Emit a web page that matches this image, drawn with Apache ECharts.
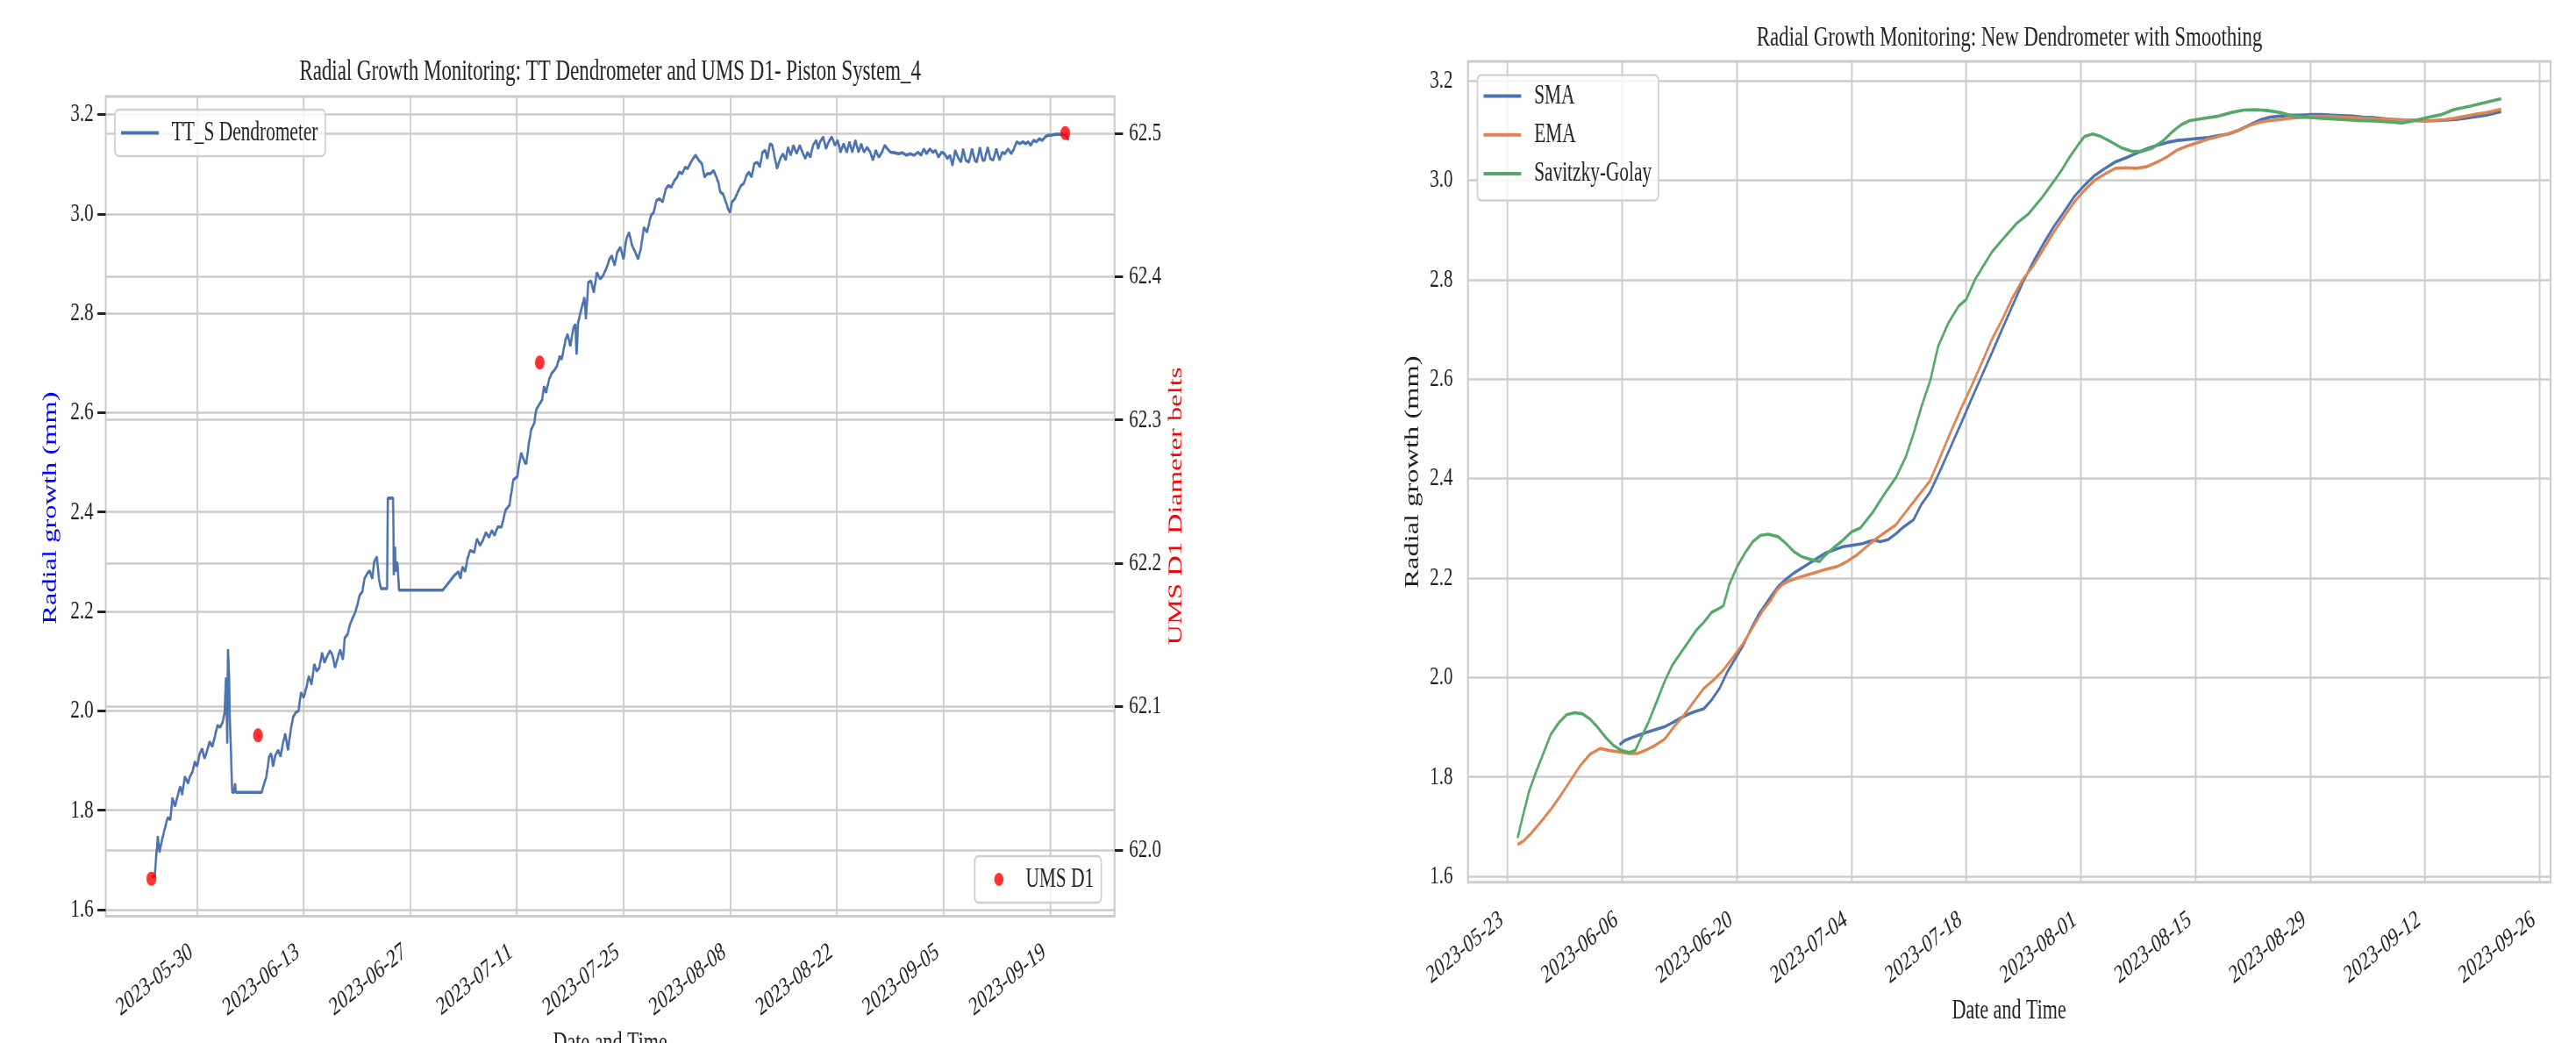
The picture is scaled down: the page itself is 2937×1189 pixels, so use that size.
<!DOCTYPE html>
<html><head><meta charset="utf-8">
<script src="https://cdn.jsdelivr.net/npm/echarts@6/dist/echarts.min.js"></script>
<style>html,body{margin:0;padding:0;background:#fff;overflow:hidden;width:2937px;height:1189px;}
#c{position:absolute;left:0;top:0;transform-origin:0 0;}</style>
</head><body><div id="c"></div>
<script>
// ---------------- DATA ----------------
// day = days since 2023-05-24 00:00
const leftXTickLabels = ['2023-05-30','2023-06-13','2023-06-27','2023-07-11','2023-07-25','2023-08-08','2023-08-22','2023-09-05','2023-09-19'];
const rightXTickLabels = ['2023-05-23','2023-06-06','2023-06-20','2023-07-04','2023-07-18','2023-08-01','2023-08-15','2023-08-29','2023-09-12','2023-09-26'];
const leftYTicks = [1.6,1.8,2.0,2.2,2.4,2.6,2.8,3.0,3.2];
const umsYTicks = [62.0,62.1,62.2,62.3,62.4,62.5];
const rightYTicks = [1.6,1.8,2.0,2.2,2.4,2.6,2.8,3.0,3.2];

// TT_S Dendrometer [day, mm]
const ttPoints = [
[0.05,1.665],[0.44,1.668],[0.85,1.748],[1.06,1.715],[1.32,1.735],[1.73,1.761],[2.14,1.785],[2.50,1.781],[2.76,1.825],[3.12,1.808],
[3.43,1.828],[3.79,1.848],[4.04,1.831],[4.40,1.868],[4.82,1.854],[5.07,1.868],[5.43,1.878],[5.69,1.898],[6.00,1.888],[6.36,1.914],
[6.67,1.924],[6.98,1.904],[7.29,1.918],[7.65,1.938],[8.01,1.928],[8.32,1.947],[8.68,1.971],[9.04,1.967],[9.35,1.977],[9.60,1.994],
[9.81,2.067],[9.96,1.934],[10.07,2.124],[10.22,2.060],[10.32,1.980],[10.48,1.900],[10.63,1.836],[10.85,1.836],[10.99,1.854],[11.10,1.836],
[14.49,1.836],[14.70,1.848],[15.11,1.868],[15.47,1.908],[15.73,1.914],[15.98,1.888],[16.29,1.911],[16.65,1.921],[16.96,1.908],[17.27,1.934],
[17.58,1.954],[17.94,1.921],[18.30,1.961],[18.61,1.987],[18.97,1.997],[19.33,2.000],[19.64,2.037],[20.00,2.027],[20.36,2.047],[20.67,2.070],
[21.03,2.053],[21.39,2.094],[21.70,2.080],[22.06,2.087],[22.42,2.117],[22.73,2.097],[23.09,2.110],[23.45,2.121],[23.76,2.113],[24.12,2.087],
[24.48,2.107],[24.79,2.123],[25.15,2.103],[25.40,2.147],[25.76,2.154],[26.07,2.173],[26.43,2.187],[26.74,2.197],[27.05,2.213],[27.36,2.233],
[27.72,2.240],[27.98,2.266],[28.34,2.276],[28.65,2.282],[29.01,2.266],[29.26,2.300],[29.62,2.310],[29.88,2.266],[30.14,2.246],[30.96,2.246],
[31.06,2.428],[31.73,2.428],[31.80,2.364],[31.84,2.273],[32.00,2.330],[32.09,2.280],[32.20,2.300],[32.35,2.293],[32.51,2.243],[38.27,2.243],
[38.78,2.253],[39.30,2.263],[39.81,2.273],[40.33,2.280],[40.59,2.266],[40.84,2.290],[41.20,2.280],[41.51,2.306],[41.87,2.323],[42.39,2.319],
[42.75,2.346],[43.16,2.333],[43.52,2.343],[43.93,2.359],[44.34,2.349],[44.70,2.363],[45.06,2.353],[45.47,2.370],[45.99,2.370],[46.50,2.404],
[47.02,2.414],[47.53,2.465],[48.05,2.471],[48.31,2.498],[48.56,2.519],[49.08,2.498],[49.25,2.498],[49.51,2.532],[49.87,2.566],[50.28,2.579],
[50.53,2.606],[50.79,2.613],[51.31,2.626],[51.56,2.653],[51.82,2.640],[52.23,2.667],[52.59,2.680],[52.85,2.684],[53.26,2.694],[53.62,2.714],
[53.88,2.707],[54.39,2.747],[54.65,2.758],[55.01,2.734],[55.42,2.771],[55.68,2.778],[55.83,2.717],[56.04,2.781],[56.45,2.808],[56.86,2.832],
[57.06,2.788],[57.37,2.862],[57.73,2.865],[58.09,2.842],[58.50,2.882],[58.92,2.869],[59.28,2.875],[59.79,2.892],[60.15,2.909],[60.46,2.916],
[60.82,2.896],[61.18,2.923],[61.59,2.933],[62.00,2.909],[62.36,2.949],[62.72,2.963],[63.13,2.936],[63.54,2.923],[63.90,2.909],[64.26,2.929],
[64.67,2.973],[65.08,2.963],[65.60,2.997],[65.96,3.003],[66.32,3.027],[66.73,3.030],[67.14,3.024],[67.55,3.050],[67.86,3.057],[68.27,3.054],
[68.68,3.067],[69.04,3.074],[69.30,3.084],[69.71,3.081],[70.07,3.094],[70.43,3.091],[70.84,3.104],[71.25,3.114],[71.46,3.118],[71.87,3.108],
[72.28,3.101],[72.64,3.074],[73.00,3.081],[73.41,3.081],[73.83,3.087],[74.19,3.074],[74.44,3.064],[74.70,3.044],[75.06,3.040],[75.37,3.027],
[75.73,3.010],[75.98,3.003],[76.24,3.024],[76.60,3.030],[77.01,3.044],[77.42,3.057],[77.78,3.061],[78.14,3.077],[78.45,3.084],[78.81,3.074],
[79.17,3.101],[79.58,3.104],[79.89,3.094],[80.25,3.124],[80.61,3.128],[80.87,3.111],[81.23,3.141],[81.54,3.138],[81.79,3.118],[82.15,3.091],
[82.57,3.111],[82.93,3.121],[83.29,3.108],[83.59,3.134],[83.95,3.118],[84.31,3.138],[84.72,3.121],[85.14,3.138],[85.50,3.124],[85.86,3.111],
[86.16,3.124],[86.52,3.114],[86.88,3.138],[87.30,3.148],[87.55,3.131],[87.81,3.145],[88.22,3.155],[88.58,3.131],[88.94,3.145],[89.35,3.155],
[89.76,3.138],[90.12,3.148],[90.48,3.124],[90.89,3.141],[91.31,3.124],[91.67,3.145],[92.03,3.124],[92.44,3.148],[92.85,3.124],[93.21,3.141],
[93.57,3.124],[93.98,3.134],[94.39,3.124],[94.75,3.108],[95.11,3.128],[95.52,3.114],[95.93,3.124],[96.29,3.138],[96.65,3.131],[97.06,3.124],
[97.58,3.123],[98.09,3.121],[98.61,3.123],[99.12,3.118],[99.64,3.121],[100.15,3.118],[100.66,3.124],[101.08,3.118],[101.43,3.131],[101.79,3.121],
[102.21,3.131],[102.62,3.124],[102.98,3.128],[103.34,3.114],[103.75,3.124],[104.16,3.121],[104.52,3.111],[104.88,3.118],[105.19,3.097],[105.55,3.128],
[105.91,3.114],[106.32,3.104],[106.58,3.131],[106.94,3.108],[107.35,3.104],[107.76,3.131],[108.12,3.108],[108.38,3.104],[108.79,3.134],[109.15,3.108],
[109.40,3.108],[109.82,3.134],[110.17,3.111],[110.54,3.108],[110.95,3.131],[111.36,3.108],[111.72,3.124],[112.08,3.121],[112.49,3.131],[112.90,3.121],
[113.26,3.131],[113.62,3.145],[114.03,3.141],[114.44,3.145],[114.80,3.141],[115.16,3.145],[115.47,3.138],[115.83,3.148],[116.19,3.145],[116.60,3.151],
[117.01,3.148],[117.37,3.155],[117.73,3.158],[118.14,3.158],[118.66,3.160],[119.17,3.160],[119.69,3.160],[120.10,3.158],[120.46,3.148]
];

// UMS D1 diameter belts [day, mm]
const umsPoints = [[0.0,61.98],[14.0,62.08],[51.0,62.34],[120.0,62.50]];

// New dendrometer smoothing [day, mm]
const smaPoints = [
[12.68,1.865],[13.40,1.874],[14.36,1.880],[15.32,1.886],[16.27,1.891],[17.23,1.896],[18.19,1.901],[19.14,1.909],[20.10,1.918],[21.06,1.926],
[22.01,1.932],[22.97,1.937],[23.93,1.955],[24.89,1.978],[25.84,2.011],[26.80,2.038],[27.76,2.064],[28.71,2.097],[29.67,2.127],[30.63,2.150],
[31.34,2.167],[32.06,2.183],[33.02,2.198],[33.97,2.210],[34.93,2.220],[35.89,2.230],[36.84,2.240],[37.80,2.250],[38.76,2.256],[39.95,2.263],
[41.15,2.266],[42.35,2.269],[43.06,2.273],[43.78,2.276],[44.50,2.273],[45.46,2.277],[46.42,2.289],[47.37,2.303],[48.57,2.317],[49.53,2.348],
[50.57,2.372],[51.83,2.416],[53.09,2.463],[54.35,2.510],[55.60,2.558],[56.86,2.605],[58.12,2.652],[59.38,2.700],[60.64,2.747],[61.90,2.794],
[63.16,2.835],[64.42,2.872],[65.67,2.906],[66.93,2.936],[68.19,2.967],[69.45,2.990],[70.71,3.010],[71.97,3.024],[73.23,3.037],[74.49,3.045],
[75.75,3.054],[77.00,3.063],[78.26,3.070],[79.52,3.076],[80.78,3.080],[82.04,3.082],[83.30,3.084],[84.56,3.086],[85.82,3.090],[87.07,3.093],
[88.33,3.101],[89.59,3.111],[90.85,3.121],[92.11,3.127],[93.37,3.129],[94.63,3.131],[95.89,3.131],[97.14,3.132],[98.40,3.132],[99.66,3.131],
[100.92,3.130],[102.18,3.129],[103.44,3.127],[104.70,3.126],[105.96,3.124],[107.22,3.122],[108.47,3.121],[109.73,3.120],[110.99,3.119],[112.25,3.120],
[113.51,3.121],[114.77,3.122],[116.03,3.125],[117.28,3.128],[118.54,3.131],[120.31,3.138]
];
const emaPoints = [
[0.24,1.664],[0.96,1.671],[1.92,1.687],[3.11,1.710],[4.31,1.735],[5.51,1.763],[6.70,1.793],[7.90,1.823],[9.10,1.846],[10.29,1.857],
[11.49,1.853],[12.68,1.850],[13.88,1.847],[14.84,1.847],[15.79,1.853],[16.99,1.863],[18.19,1.876],[19.38,1.902],[20.58,1.925],[21.78,1.952],
[22.97,1.978],[24.17,1.995],[25.36,2.015],[26.56,2.041],[27.76,2.068],[28.95,2.101],[30.15,2.134],[31.11,2.154],[31.82,2.174],[32.54,2.187],
[33.50,2.195],[34.93,2.203],[36.37,2.210],[37.80,2.217],[39.24,2.223],[40.44,2.233],[41.63,2.246],[42.83,2.263],[44.02,2.279],[45.22,2.293],
[46.42,2.307],[48.33,2.348],[50.57,2.395],[51.83,2.443],[53.09,2.493],[54.35,2.540],[55.60,2.584],[56.86,2.631],[58.12,2.679],[59.38,2.719],
[60.64,2.763],[61.90,2.800],[63.16,2.827],[64.42,2.861],[65.67,2.895],[66.93,2.926],[68.19,2.956],[69.45,2.980],[70.71,3.000],[71.97,3.013],
[73.23,3.024],[74.49,3.025],[75.75,3.024],[77.00,3.027],[78.26,3.036],[79.52,3.047],[80.78,3.061],[82.04,3.069],[83.30,3.076],[84.56,3.083],
[85.82,3.088],[87.07,3.094],[88.33,3.101],[89.59,3.110],[90.85,3.117],[92.11,3.120],[93.37,3.122],[94.63,3.125],[95.89,3.126],[97.14,3.128],
[98.40,3.128],[99.66,3.128],[100.92,3.127],[102.18,3.126],[103.44,3.125],[104.70,3.124],[105.96,3.123],[107.22,3.122],[108.47,3.121],[109.73,3.121],
[110.99,3.120],[112.25,3.120],[113.51,3.122],[114.77,3.125],[116.03,3.129],[117.28,3.133],[118.54,3.136],[120.31,3.143]
];
const sgPoints = [
[0.24,1.677],[0.96,1.727],[1.68,1.773],[2.40,1.806],[3.35,1.846],[4.31,1.886],[5.27,1.909],[6.22,1.925],[7.18,1.929],[8.14,1.927],
[9.10,1.916],[10.05,1.899],[11.01,1.879],[11.97,1.863],[12.92,1.853],[13.88,1.849],[14.60,1.853],[15.32,1.879],[16.27,1.912],[17.23,1.952],
[18.19,1.992],[19.14,2.025],[20.10,2.048],[21.06,2.071],[22.01,2.094],[22.97,2.111],[23.93,2.131],[24.65,2.137],[25.36,2.144],[26.08,2.187],
[27.04,2.223],[27.99,2.250],[28.95,2.273],[29.91,2.286],[30.86,2.288],[32.06,2.283],[33.02,2.269],[33.97,2.253],[34.93,2.243],[35.89,2.238],
[37.08,2.233],[37.80,2.246],[38.76,2.260],[39.95,2.276],[41.01,2.293],[42.11,2.301],[43.55,2.331],[44.98,2.368],[46.42,2.402],[47.61,2.443],
[48.57,2.490],[49.53,2.544],[50.63,2.598],[51.58,2.666],[52.83,2.713],[54.09,2.747],[55.00,2.760],[56.11,2.801],[58.12,2.855],[59.13,2.875],
[61.14,2.913],[62.65,2.933],[64.16,2.963],[65.67,2.997],[66.68,3.021],[67.69,3.048],[68.70,3.072],[69.45,3.088],[70.46,3.093],[71.46,3.088],
[72.72,3.077],[73.98,3.065],[75.24,3.058],[76.50,3.058],[77.76,3.065],[79.02,3.079],[80.28,3.099],[81.28,3.112],[82.29,3.120],[83.80,3.124],
[85.82,3.129],[87.33,3.136],[88.84,3.141],[90.35,3.142],[91.86,3.140],[93.37,3.136],[94.88,3.129],[96.89,3.126],[98.91,3.124],[100.92,3.122],
[102.94,3.120],[104.95,3.119],[106.97,3.117],[108.22,3.115],[109.48,3.119],[111.50,3.127],[113.00,3.132],[114.52,3.142],[116.53,3.149],[118.55,3.157],
[120.31,3.164]
];

// ---------------- LAYOUT ----------------
const SQ = 0.7;              // the source figure is squeezed horizontally
const W = 2937, H = 1189, RW = W / SQ;
const X = v => v / SQ;       // final-pixel x -> render x
const BASE = Date.UTC(2023, 4, 24);
const dayOf = s => (Date.parse(s + 'T00:00:00Z') - BASE) / 86400000;
const dayLabel = v => new Date(BASE + Math.round(v) * 86400000).toISOString().slice(0, 10);
const FONT = 'Liberation Serif';
const TXT = '#222222';
const GRIDC = '#cccccc';

const el = document.getElementById('c');
el.style.width = RW + 'px'; el.style.height = H + 'px';
el.style.transform = 'scaleX(' + SQ + ')';
const chart = echarts.init(el, null, { renderer: 'canvas', width: RW, height: H });

const leftXTicks = leftXTickLabels.map(dayOf);
const rightXTicks = rightXTickLabels.map(dayOf);

function xAxisDef(gridIndex, min, max, ticks, margin) {
  return {
    type: 'value', gridIndex, min, max,
    axisLine: { show: false, onZero: false }, axisTick: { show: false, customValues: ticks },
    axisLabel: { customValues: ticks, formatter: dayLabel, rotate: 30, margin, padding: [0, 11, 0, 0],
      fontFamily: FONT, fontSize: 29.5, color: TXT },
    splitLine: { show: true, lineStyle: { color: GRIDC, width: 2.6 } }
  };
}
function yAxisDef(gridIndex, min, max, ticks, pos, showTicks, margin) {
  return {
    type: 'value', gridIndex, min, max, position: pos,
    axisLine: { show: false, onZero: false },
    axisTick: { show: showTicks, inside: false, customValues: ticks, length: X(9.5), lineStyle: { color: TXT, width: 3 } },
    axisLabel: { customValues: ticks, formatter: v => v.toFixed(1), margin, fontFamily: FONT, fontSize: 30, color: TXT },
    splitLine: { show: true, lineStyle: { color: GRIDC, width: 2.6 } }
  };
}
const legendText = { fontFamily: FONT, fontSize: 30.5, color: TXT, padding: [0, 0, 0, 16] };
const legendBox = { backgroundColor: 'rgba(255,255,255,0.8)', borderColor: '#cfcfcf', borderWidth: 2.4, borderRadius: 6, selectedMode: false };

function txt(x, y, text, size, color, rot) {
  return { type: 'text', x: X(x), y, rotation: rot || 0, silent: true,
    style: { text, fontFamily: FONT, fontSize: size, fill: color, align: 'center', verticalAlign: 'middle' } };
}

const option = {
  animation: false,
  backgroundColor: '#ffffff',
  grid: [
    { left: X(120.5), top: 110, width: X(1150), height: 934.4, show: true, borderColor: GRIDC, borderWidth: 3, backgroundColor: 'transparent' },
    { left: X(1673.2), top: 70, width: X(1234.2), height: 935.7, show: true, borderColor: GRIDC, borderWidth: 3, backgroundColor: 'transparent' }
  ],
  xAxis: [
    xAxisDef(0, -5.99, 126.48, leftXTicks, 33),
    xAxisDef(1, -5.83, 126.36, rightXTicks, 35)
  ],
  yAxis: [
    yAxisDef(0, 1.5869, 3.2362, leftYTicks, 'left', true, 20),
    yAxisDef(0, 61.9539, 62.5256, umsYTicks, 'right', true, 23.5),
    yAxisDef(1, 1.5882, 3.2390, rightYTicks, 'left', false, 24.5)
  ],
  legend: [
    Object.assign({ data: [{ name: 'TT_S Dendrometer', icon: 'rect' }], left: X(131), top: 125, orient: 'vertical',
      itemWidth: X(43), itemHeight: 4, itemGap: 10, padding: [11, 12, 11, 10],
      textStyle: legendText }, legendBox),
    Object.assign({ data: [{ name: 'UMS D1', icon: 'circle' }], left: X(1111), top: 976, orient: 'vertical',
      itemWidth: 15, itemHeight: 15, padding: [11, 12, 11, 32],
      textStyle: Object.assign({}, legendText, { padding: [0, 0, 0, 31] }) }, legendBox),
    Object.assign({ data: [{ name: 'SMA', icon: 'rect' }, { name: 'EMA', icon: 'rect' }, { name: 'Savitzky-Golay', icon: 'rect' }],
      left: X(1684), top: 85.6, orient: 'vertical',
      itemWidth: X(43), itemHeight: 4, itemGap: 13.2, padding: [8.5, 11, 15, 10],
      textStyle: legendText }, legendBox)
  ],
  series: [
    { name: 'TT_S Dendrometer', type: 'line', xAxisIndex: 0, yAxisIndex: 0, data: ttPoints, showSymbol: false, symbol: 'none',
      lineStyle: { color: '#4c72b0', width: 3.6 }, itemStyle: { color: '#4c72b0' }, z: 3 },
    { name: 'UMS D1', type: 'scatter', xAxisIndex: 0, yAxisIndex: 1, data: umsPoints, symbol: 'circle', symbolSize: 16,
      itemStyle: { color: '#ff0000' }, z: 4 },
    { name: 'SMA', type: 'line', xAxisIndex: 1, yAxisIndex: 2, data: smaPoints, symbol: 'none',
      lineStyle: { color: '#4c72b0', width: 3.6 }, itemStyle: { color: '#4c72b0' }, z: 3 },
    { name: 'EMA', type: 'line', xAxisIndex: 1, yAxisIndex: 2, data: emaPoints, symbol: 'none',
      lineStyle: { color: '#dd8452', width: 3.6 }, itemStyle: { color: '#dd8452' }, z: 3 },
    { name: 'Savitzky-Golay', type: 'line', xAxisIndex: 1, yAxisIndex: 2, data: sgPoints, symbol: 'none',
      lineStyle: { color: '#55a868', width: 3.6 }, itemStyle: { color: '#55a868' }, z: 3 }
  ],
  graphic: [
    txt(695.5, 82.7, 'Radial Growth Monitoring: TT Dendrometer and UMS D1- Piston System_4', 32.8, TXT),
    txt(2290.5, 43.7, 'Radial Growth Monitoring: New Dendrometer with Smoothing', 32.5, TXT),
    txt(58, 579, 'Radial growth (mm)', 32.5, '#0000ff', Math.PI / 2),
    txt(1341, 577, 'UMS D1 Diameter belts', 32.5, '#ff0000', Math.PI / 2),
    txt(1610, 538, 'Radial growth (mm)', 32.5, TXT, Math.PI / 2),
    txt(695.5, 1190, 'Date and Time', 31.5, TXT),
    txt(2290, 1152.5, 'Date and Time', 31.5, TXT)
  ]
};
chart.setOption(option);
</script>
</body></html>
